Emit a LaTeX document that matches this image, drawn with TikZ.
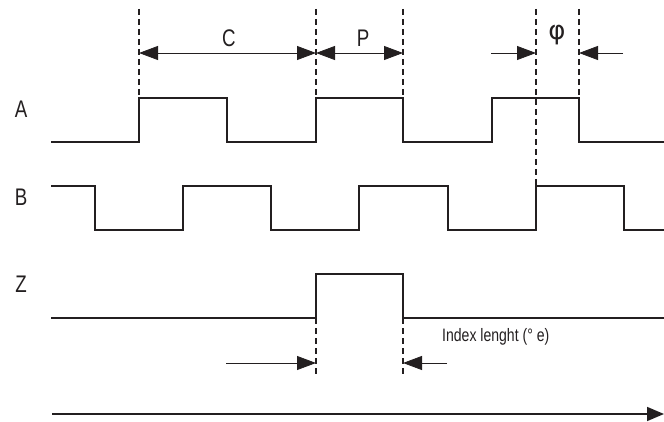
\documentclass[tikz,border=0pt]{standalone}
\usepackage{fontspec}
\setmainfont{Liberation Sans}[FakeStretch=0.78]
\newfontfamily\phifont{DejaVu Sans}
\usetikzlibrary{arrows.meta}
\definecolor{ink}{HTML}{231F20}
\begin{document}
\begin{tikzpicture}[x=1pt,y=-1pt,
  sig/.style={draw=ink,line width=1.6pt,line join=miter},
  guide/.style={draw=ink,line width=1.3pt,dash pattern=on 6pt off 4pt},
  tipbig/.tip={Triangle[length=19pt,width=14pt]},
  dim/.style={draw=ink,line width=0.8pt,-tipbig},
  dimboth/.style={draw=ink,line width=0.8pt,tipbig-tipbig},
  axis/.style={draw=ink,line width=1.6pt,-{Triangle[length=17pt,width=14pt]}},
  lbl/.style={text=ink,inner sep=0pt,font=\fontsize{24}{24}\selectfont},
  small/.style={text=ink,inner sep=0pt,font=\fontsize{18}{18}\selectfont}]
\useasboundingbox (0,0) rectangle (664,422);
% labels
\node[lbl] (la) at (21,109) {A};
\node[lbl] (lb) at (21,197) {B};
\node[lbl] (lz) at (21,284) {Z};
\node[lbl] (lc) at (229,38) {C};
\node[lbl] (lp) at (363,38) {P};
\node[lbl,font=\fontsize{26}{26}\selectfont] (lphi) at (557,35) {\phifont φ};
\node[small,anchor=west] (lidx) at (442,337) {Index lenght (° e)};
% signals
\draw[sig] (51,142) -- (139,142) -- (139,98) -- (227,98) -- (227,142) -- (316,142) -- (316,98) -- (403,98) -- (403,142) -- (492,142) -- (492,98) -- (579,98) -- (579,142) -- (664,142);
\draw[sig] (51,186) -- (95,186) -- (95,230) -- (183,230) -- (183,186) -- (271,186) -- (271,230) -- (359,230) -- (359,186) -- (448,186) -- (448,230) -- (536,230) -- (536,186) -- (624,186) -- (624,230) -- (664,230);
\draw[sig] (51,318) -- (316,318) -- (316,274) -- (403,274) -- (403,318) -- (664,318);
% guide coordinates
\coordinate (g1t) at (139,9);  \coordinate (g1b) at (139,98);
\coordinate (g2t) at (316,9);  \coordinate (g2b) at (316,98);
\coordinate (g3t) at (403,9);  \coordinate (g3b) at (403,98);
\coordinate (g4t) at (536,9);  \coordinate (g4b) at (536,186);
\coordinate (g5t) at (579,9);  \coordinate (g5b) at (579,98);
\coordinate (g6t) at (316,318); \coordinate (g6b) at (316,377);
\coordinate (g7t) at (403,318); \coordinate (g7b) at (403,377);
\foreach \g in {1,...,7} \draw[guide] (g\g t) -- (g\g b);
% dimension lines
\coordinate (c1) at (139,53); \coordinate (c2) at (316,53); \coordinate (c3) at (403,53);
\coordinate (f1) at (491,53); \coordinate (f2) at (536,53);
\coordinate (f3) at (623,53); \coordinate (f4) at (579,53);
\coordinate (i1) at (226,363); \coordinate (i2) at (316,363);
\coordinate (i3) at (447,363); \coordinate (i4) at (403,363);
\draw[dimboth] (c1) -- (c2);
\draw[dimboth] (c2) -- (c3);
\draw[dim] (f1) -- (f2);
\draw[dim] (f3) -- (f4);
\draw[dim] (i1) -- (i2);
\draw[dim] (i3) -- (i4);
% time axis
\coordinate (t0) at (52,414); \coordinate (t1) at (664,414);
\draw[axis] (t0) -- (t1);
\end{tikzpicture}
\end{document}
